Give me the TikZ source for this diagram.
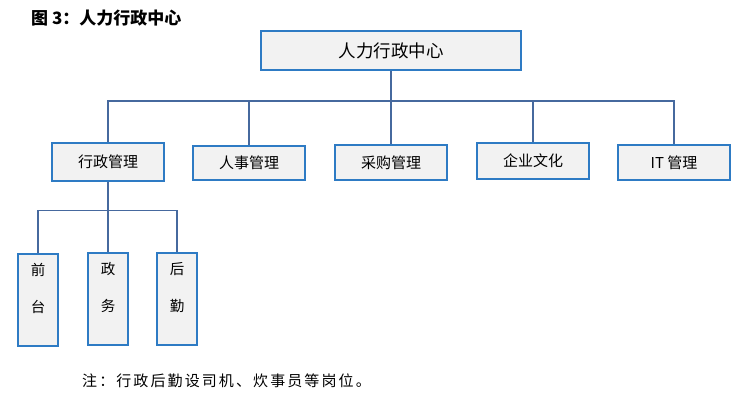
\documentclass[tikz,border=0pt]{standalone}
\usepackage{fontspec}
\newfontfamily\cjk{Noto Sans CJK SC}
\newfontfamily\cjksp[LetterSpace=14]{Noto Sans CJK SC}
\definecolor{boxline}{HTML}{2E7BC4}
\definecolor{boxfill}{HTML}{F2F2F2}
\definecolor{connline}{HTML}{46699E}
\pgfdeclarelayer{bg}
\pgfsetlayers{bg,main}
\tikzset{
  box/.style={draw=boxline, fill=boxfill, line width=1.7pt, rectangle, inner sep=0pt, font=\cjk\fontsize{15}{17}\selectfont},
  topbox/.style={box, minimum width=260pt, minimum height=39pt, font=\cjk\fontsize{17.5}{19}\selectfont},
  midbox/.style={box, minimum width=112pt},
  lowbox/.style={box, minimum width=40pt, minimum height=92pt},
  vtext/.style={anchor=north, inner sep=0pt, align=center, font=\cjk\fontsize{14.5}{37}\selectfont},
  conn/.style={draw=connline, line width=1.7pt},
}
\begin{document}
\begin{tikzpicture}[x=1pt,y=-1pt]
\useasboundingbox (0,0) rectangle (751,407);
\node[anchor=west, inner sep=0pt, font=\cjk\bfseries\fontsize{17}{19}\selectfont] (title) at (31,18) {图 3：人力行政中心};
\node[topbox] (top) at (391,50.5) {人力行政中心};
\node[midbox, minimum height=38pt] (xz) at (108,162) {行政管理};
\node[midbox, minimum height=34pt] (rs) at (249,163) {人事管理};
\node[midbox, minimum height=35pt] (cg) at (391,162.5) {采购管理};
\node[midbox, minimum height=36pt] (qy) at (533,161) {企业文化};
\node[midbox, minimum height=35pt] (it) at (674,162.5) {IT 管理};
\node[lowbox] (qt) at (38,300) {};
\node[lowbox] (zw) at (108,299) {};
\node[lowbox] (hq) at (177,299) {};
\path (qt.north) ++(0,10) node[vtext] (qtt) {前\\台};
\path (zw.north) ++(0,10) node[vtext] (zwt) {政\\务};
\path (hq.north) ++(0,10) node[vtext] (hqt) {后\\勤};
\coordinate (h1) at (391,101);
\coordinate (h2) at (108,210.5);
\begin{pgfonlayer}{bg}
\draw[conn] (top.south) -- (cg.north);
\draw[conn] (xz.north) -- (xz.north |- h1) -| (it.north);
\draw[conn] (rs.north) -- (rs.north |- h1);
\draw[conn] (qy.north) -- (qy.north |- h1);
\draw[conn] (xz.south) -- (zw.north);
\draw[conn] (qt.north) -- (qt.north |- h2) -| (hq.north);
\end{pgfonlayer}
\node[anchor=west, inner sep=0pt, font=\cjksp\fontsize{15}{17}\selectfont] (note) at (82,381) {注：行政后勤设司机、炊事员等岗位。};
\end{tikzpicture}
\end{document}
